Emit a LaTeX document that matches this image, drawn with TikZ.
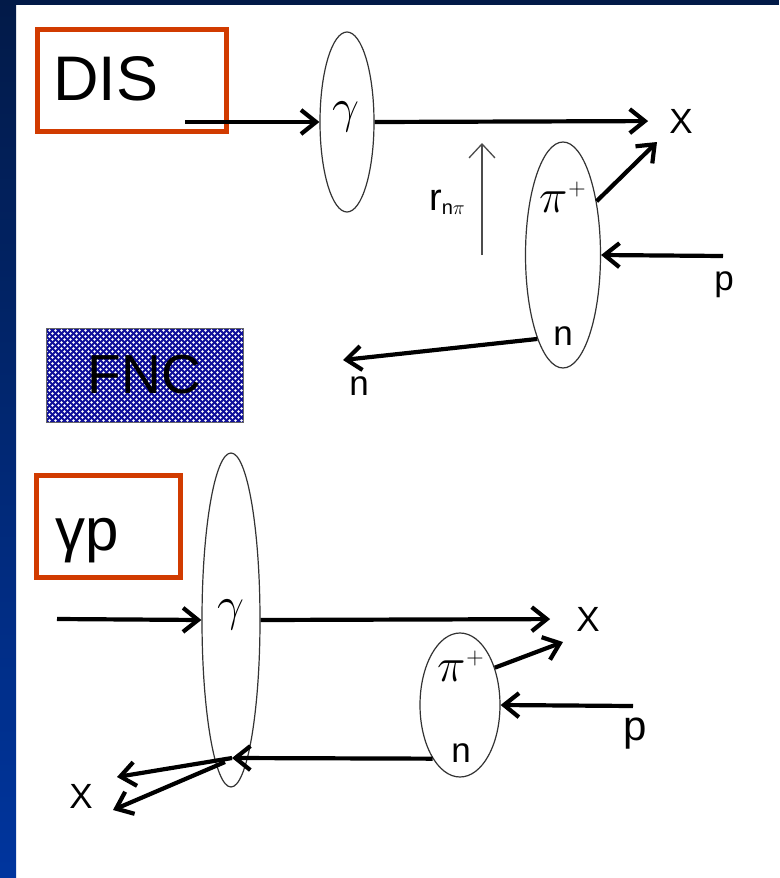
\RequirePackage{fix-cm}
\documentclass[tikz,border=0pt]{standalone}
\usepackage{fontspec}
\setmainfont{Liberation Sans}
\usetikzlibrary{arrows.meta,shapes.geometric,patterns}
\pgfdeclarepatternformonly{fncdots}{\pgfpoint{-1pt}{-1pt}}{\pgfpoint{7pt}{7pt}}{\pgfpoint{6pt}{6pt}}{%
  \pgfpathcircle{\pgfpoint{1.5pt}{1.5pt}}{1.4pt}%
  \pgfpathcircle{\pgfpoint{4.5pt}{4.5pt}}{1.4pt}%
  \pgfusepath{fill}}
\definecolor{frametop}{HTML}{021A48}
\definecolor{framebot}{HTML}{00359E}
\definecolor{boxred}{HTML}{D13B00}
\definecolor{fncblue}{HTML}{10109A}
\begin{document}
\begin{tikzpicture}[x=1pt,y=-1pt,
  ell/.style={draw=black!80,line width=1.2pt,ellipse,inner sep=0pt},
  redbox/.style={draw=boxred,line width=5pt,rectangle,inner sep=0pt},
  fncbox/.style={draw=black!60,line width=1pt,rectangle,inner sep=0pt,
    preaction={fill=fncblue},pattern=fncdots,pattern color=white,
    font=\fontsize{55}{55}\selectfont},
  thk/.style={line width=4.2pt,-{Straight Barb[length=15pt,width=24pt]}},
  thn/.style={line width=1.3pt,black!70,-{Straight Barb[length=14pt,width=26pt]}},
  lbl/.style={inner sep=0pt,font=\fontsize{35}{35}\selectfont},
  gam/.style={inner sep=0pt,font=\fontsize{48}{48}\selectfont},
  big/.style={inner sep=0pt,anchor=base west,font=\fontsize{63}{63}\selectfont},
]
\useasboundingbox (0,0) rectangle (779,878);
\fill[white] (0,0) rectangle (779,878);
\shade[top color=frametop,bottom color=framebot] (0,0) rectangle (16,878);
\fill[frametop] (0,0) rectangle (779,5);

% ---- DIS ----
\node[redbox,minimum width=189pt,minimum height=102pt] (disbox) at (132,80.5) {};
\node[big] (distxt) at (53,100) {DIS};
\node[ell,minimum width=54pt,minimum height=180pt] (g1) at (347,122) {};
\node[gam] (lg1) at (346,117) {$\gamma$};
\coordinate (s1) at (185,122);
\node[lbl] (x1) at (681,121) {X};
\draw[thk] (s1) -- (g1.west);
\draw[thk,shorten >=21pt] (g1.east) -- (x1.west);

\node[ell,minimum width=75pt,minimum height=226pt] (e2) at (563,255) {};
\node[gam] (lpi1) at (563,197) {$\pi^{\scriptscriptstyle +}$};
\node[lbl] (ln1) at (563,336) {n};
\coordinate (pe1) at (657,142);
\draw[thk] (e2.58) -- (pe1);
\coordinate (ps1) at (723,256);
\draw[thk] (ps1) -- (e2.east);
\node[lbl] (lp1) at (724,285) {p};
\coordinate (ne1) at (343,360);
\draw[thk] (e2.253) -- (ne1);
\node[lbl] (lno) at (359,386) {n};

\coordinate (rb) at (482,255);
\coordinate (rt) at (482,143);
\draw[thn] (rb) -- (rt);
\node[inner sep=0pt,anchor=base west,font=\fontsize{38}{38}\selectfont] (lr) at (429,210)
  {r\raisebox{-4pt}{\fontsize{20}{20}\selectfont n$\pi$}};

% ---- FNC ----
\node[fncbox,minimum width=197pt,minimum height=94pt] (fnc) at (144.5,375) {FNC};

% ---- gamma p ----
\node[redbox,minimum width=144pt,minimum height=102pt] (gpbox) at (108.5,526.5) {};
\node[big,font=\fontsize{60}{60}\selectfont] (gptxt) at (55,550) {γp};
\node[ell,minimum width=58pt,minimum height=334pt] (g2) at (231,620) {};
\node[gam] (lg2) at (231,615) {$\gamma$};
\coordinate (s2) at (57,619);
\draw[thk] (s2) -- (g2.west);
\node[lbl] (x2) at (588,619) {X};
\draw[thk,shorten >=26pt] (g2.east) -- (x2.west);

\node[ell,minimum width=80pt,minimum height=144pt] (e4) at (460,705) {};
\node[gam] (lpi2) at (461,666) {$\pi^{\scriptscriptstyle +}$};
\node[lbl] (ln2) at (461,753) {n};
\coordinate (pe2) at (563,642);
\draw[thk] (e4.47) -- (pe2);
\coordinate (ps2) at (633,706);
\draw[thk] (ps2) -- (e4.east);
\node[inner sep=0pt,font=\fontsize{42}{42}\selectfont] (lp2) at (635,734) {p};
\coordinate (vtx) at (232,758);
\draw[thk] (e4.243) -- (vtx);
\coordinate (vtx2) at (225,762);
\coordinate (xa) at (117,777);
\coordinate (xb) at (113,810);
\draw[thk] (vtx) -- (xa);
\draw[thk] (vtx2) -- (xb);
\node[lbl] (x3) at (81,796) {X};
\end{tikzpicture}
\end{document}
